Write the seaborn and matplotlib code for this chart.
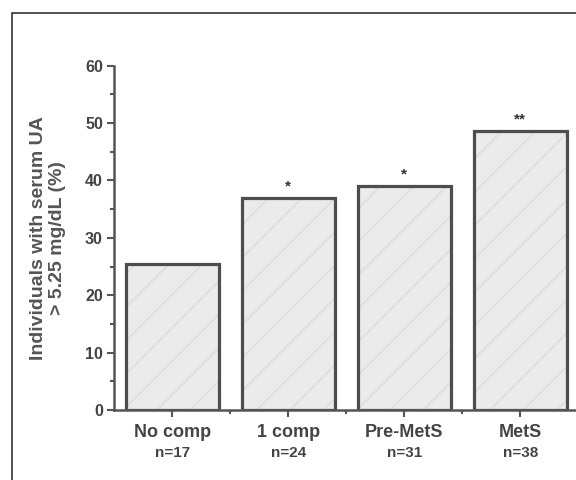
import numpy as np
import pandas as pd
import seaborn as sns
import matplotlib.pyplot as plt
from matplotlib.patches import Rectangle
from matplotlib.ticker import MultipleLocator, FixedLocator

# data
groups = ['No comp', '1 comp', 'Pre-MetS', 'MetS']
n_labels = ['n=17', 'n=24', 'n=31', 'n=38']
percent_high_ua = [25.4, 36.9, 39.0, 48.6]
signif = ['', '*', '*', '**']

df = pd.DataFrame({'group': groups, 'pct': percent_high_ua})

sns.set_style('ticks')
plt.rcParams['font.family'] = ['Liberation Sans', 'DejaVu Sans']
plt.rcParams['hatch.linewidth'] = 1.4

fig = plt.figure(figsize=(5.76, 4.8), dpi=100)
ax = fig.add_axes([0.198, 0.146, 0.806, 0.717])

# light fill with very faint diagonal hatch
sns.barplot(data=df, x='group', y='pct', color='#ebebeb', edgecolor='#dfdfdf',
            linewidth=0, hatch='/', width=0.80, saturation=1, ax=ax)
# dark outlines on top
sns.barplot(data=df, x='group', y='pct', fill=False, edgecolor='#4d4d4d',
            linewidth=2.3, width=0.80, ax=ax)

ax.set_xlim(-0.5, 3.5)
ax.set_ylim(0, 60)

# significance marks
for i, (v, s) in enumerate(zip(percent_high_ua, signif)):
    if s:
        ax.text(i, v + 0.9, s, ha='center', va='bottom', fontsize=11,
                fontweight='bold', color='#333333')

# axes styling
for side in ['top', 'right']:
    ax.spines[side].set_visible(False)
for side in ['left', 'bottom']:
    ax.spines[side].set_color('#555555')
    ax.spines[side].set_linewidth(1.8)

ax.yaxis.set_major_locator(MultipleLocator(10))
ax.yaxis.set_minor_locator(MultipleLocator(5))
ax.xaxis.set_minor_locator(FixedLocator([0.5, 1.5, 2.5]))
ax.tick_params(axis='both', which='major', length=5, width=1.5, color='#555555')
ax.tick_params(axis='both', which='minor', length=3, width=1.5, color='#555555')
ax.tick_params(axis='y', labelsize=11.5, labelcolor='#444444', pad=3)
ax.tick_params(axis='x', labelsize=13, labelcolor='#444444', pad=5)
for lab in ax.get_yticklabels():
    lab.set_fontweight('bold')
for lab in ax.get_xticklabels():
    lab.set_fontweight('bold')

# second line of x labels (group sizes)
for i, n in enumerate(n_labels):
    ax.annotate(n, xy=(i, 0), xycoords=('data', 'axes fraction'),
                xytext=(0, -31), textcoords='offset points', ha='center', va='center',
                fontsize=11, fontweight='bold', color='#444444')

ax.set_xlabel('')
ax.set_ylabel('Individuals with serum UA\n> 5.25 mg/dL (%)', fontsize=14,
              fontweight='bold', color='#555555', labelpad=14, linespacing=1.15)

# outer frame of the figure panel
fig.add_artist(Rectangle((12 / 576, -0.1), 1.2, 1 - 13 / 480 + 0.1,
                         transform=fig.transFigure, fill=False,
                         edgecolor='#333333', linewidth=1.2))

fig.savefig('out.png', dpi=100)
